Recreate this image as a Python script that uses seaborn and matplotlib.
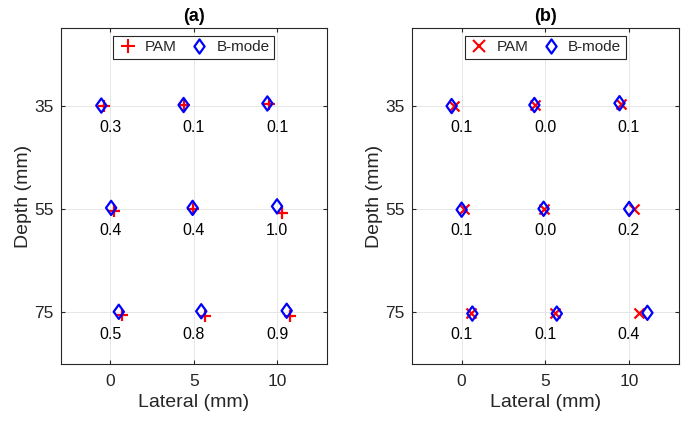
import numpy as np
import matplotlib
matplotlib.use("Agg")
import matplotlib.pyplot as plt
from matplotlib.path import Path
from matplotlib.lines import Line2D
import seaborn as sns

# Target grid (mm)
lateral_ticks = [0, 5, 10]
depth_ticks = [35, 55, 75]

# Panel (a): PAM (+) and B-mode (diamond) localisations
a_pam_x = [-0.40, 4.43, 9.54, 0.20, 4.95, 10.28, 0.70, 5.69, 10.78]
a_pam_y = [35.1, 34.9, 34.7, 55.4, 55.1, 55.8, 75.5, 75.7, 75.7]
a_bm_x = [-0.55, 4.39, 9.42, 0.04, 4.93, 10.00, 0.50, 5.45, 10.58]
a_bm_y = [35.0, 34.9, 34.6, 54.8, 54.8, 54.5, 74.9, 74.8, 74.7]
a_err = [0.3, 0.1, 0.1, 0.4, 0.4, 1.0, 0.5, 0.8, 0.9]

# Panel (b): PAM (x) and B-mode (diamond) localisations
b_pam_x = [-0.46, 4.40, 9.52, 0.14, 4.90, 10.28, 0.55, 5.59, 10.63]
b_pam_y = [35.0, 34.8, 34.7, 55.0, 54.97, 55.0, 75.1, 75.1, 75.1]
b_bm_x = [-0.60, 4.35, 9.44, 0.00, 4.90, 10.02, 0.64, 5.69, 11.11]
b_bm_y = [35.1, 34.9, 34.55, 55.15, 54.97, 55.0, 75.25, 75.25, 75.1]
b_err = [0.1, 0.0, 0.1, 0.1, 0.0, 0.2, 0.1, 0.1, 0.4]

sns.set_theme(style="white")
plt.rcParams["font.family"] = ["Liberation Sans", "DejaVu Sans"]

AX_COLOR = "#262626"
diamond = Path([(0, 1), (0.72, 0), (0, -1), (-0.72, 0), (0, 1)],
               [Path.MOVETO, Path.LINETO, Path.LINETO, Path.LINETO, Path.CLOSEPOLY])

fig = plt.figure(figsize=(6.86, 4.22), dpi=100)
W, H = 686, 422
ax_a = fig.add_axes([60.5 / W, 1 - 364 / H, 266.5 / W, 336 / H])
ax_b = fig.add_axes([411.5 / W, 1 - 364 / H, 267.5 / W, 336 / H])


def draw_panel(ax, pam_x, pam_y, bm_x, bm_y, err, pam_marker, pam_size, title):
    sns.scatterplot(x=pam_x, y=pam_y, ax=ax, marker=pam_marker, s=pam_size,
                    color="red", legend=False, zorder=3)
    sns.scatterplot(x=bm_x, y=bm_y, ax=ax, marker=diamond, s=105,
                    legend=False, zorder=4)
    pam_coll, bm_coll = ax.collections[0], ax.collections[1]
    pam_coll.set_edgecolor("red")
    pam_coll.set_facecolor("red")
    pam_coll.set_linewidth(1.6)
    bm_coll.set_facecolor("none")
    bm_coll.set_edgecolor("blue")
    bm_coll.set_linewidth(1.6)

    k = 0
    for d in depth_ticks:
        for l in lateral_ticks:
            ax.text(l, d + 4.2, f"{err[k]:.1f}", ha="center", va="center",
                    fontsize=11.5, color="black")
            k += 1

    ax.set_xlim(-3, 13)
    ax.set_ylim(85, 20)
    ax.set_xticks(lateral_ticks)
    ax.set_yticks(depth_ticks)
    ax.grid(True, color="#e6e6e6", linewidth=0.7)
    ax.set_axisbelow(True)
    for sp in ax.spines.values():
        sp.set_visible(True)
        sp.set_color(AX_COLOR)
        sp.set_linewidth(0.8)
    ax.tick_params(axis="both", direction="in", length=2.8, width=0.8,
                   color=AX_COLOR, labelcolor=AX_COLOR, labelsize=12.5,
                   top=True, right=True, bottom=True, left=True)
    ax.tick_params(axis="y", pad=4.7)
    ax.tick_params(axis="x", pad=7)
    ax.set_xlabel("Lateral (mm)", fontsize=14, color=AX_COLOR, labelpad=4)
    ax.set_ylabel("Depth (mm)", fontsize=14, color=AX_COLOR, labelpad=2)
    ax.set_title(title, fontsize=13, fontweight="bold", color="black", pad=5)

    handles = [
        Line2D([], [], linestyle="none", marker=pam_marker, color="red",
               markersize=np.sqrt(pam_size) + 1, markeredgewidth=1.5),
        Line2D([], [], linestyle="none", marker=diamond, markerfacecolor="none",
               markeredgecolor="blue", markersize=10.2, markeredgewidth=1.6),
    ]
    leg = ax.legend(handles, ["PAM", "B-mode"], loc="upper center",
                    bbox_to_anchor=(0.5, 1 - 7.7 / 336), borderaxespad=0,
                    ncol=2, fontsize=11, frameon=True, fancybox=False,
                    handlelength=1.3, handletextpad=0.5, columnspacing=0.8,
                    borderpad=0.3)
    leg.get_frame().set_edgecolor(AX_COLOR)
    leg.get_frame().set_linewidth(0.8)
    leg.get_frame().set_alpha(1)


draw_panel(ax_a, a_pam_x, a_pam_y, a_bm_x, a_bm_y, a_err, "+", 80, "(a)")
draw_panel(ax_b, b_pam_x, b_pam_y, b_bm_x, b_bm_y, b_err, "x", 52, "(b)")

fig.savefig("out.png", dpi=100)
